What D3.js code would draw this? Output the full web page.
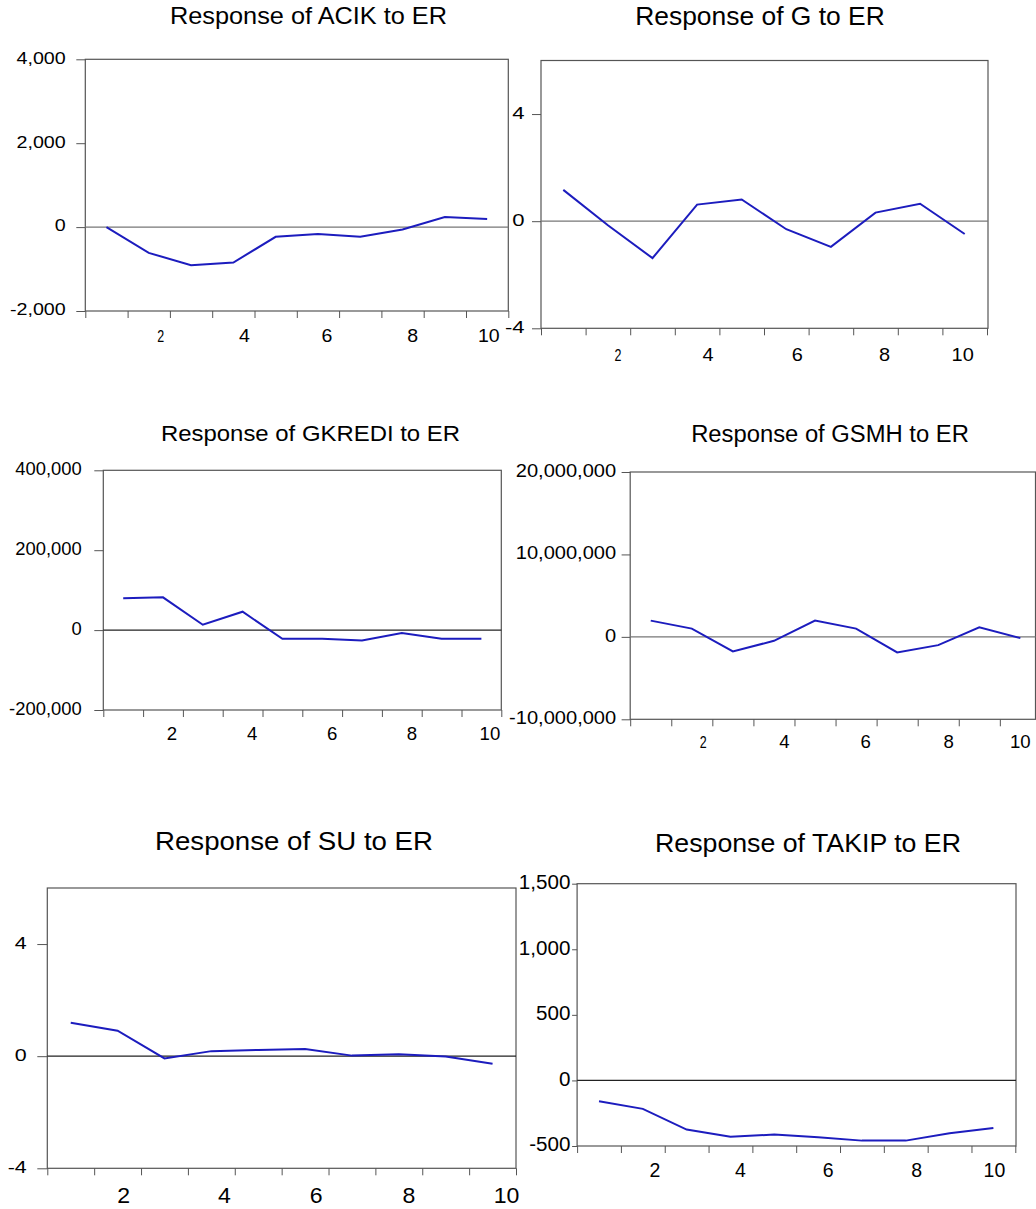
<!DOCTYPE html>
<html>
<head>
<meta charset="utf-8">
<script src="https://cdn.jsdelivr.net/npm/d3@7"></script>
<style>
  body { margin: 0; background: #fff; }
  svg { display: block; font-family: Arial, "Liberation Sans", sans-serif; }
</style>
</head>
<body>
<div id="chart"></div>
<script>
// impulse responses, periods 1..10
var periods = [1, 2, 3, 4, 5, 6, 7, 8, 9, 10];
var xTickLabels = [2, 4, 6, 8, 10];

var acikResp   = [0, -614, -908, -845, -231, -167, -231, -56, 239, 191];
var gResp      = [1.17, -0.15, -1.38, 0.62, 0.81, -0.30, -0.96, 0.32, 0.65, -0.48];
var gkrediResp = [79500, 82000, 13400, 46000, -21800, -21800, -26000, -7500, -21800, -21800];
var gsmhResp   = [1970000, 1000000, -1770000, -480000, 1970000, 1000000, -1890000, -1000000, 1150000, -150000];
var suResp     = [1.19, 0.91, -0.08, 0.18, 0.22, 0.26, 0.02, 0.07, -0.01, -0.27];
var takipResp  = [-158, -217, -375, -429, -413, -434, -459, -459, -403, -362];

var acikTicks   = [-2000, 0, 2000, 4000];
var gTicks      = [-4, 0, 4];
var gkrediTicks = [-200000, 0, 200000, 400000];
var gsmhTicks   = [-10000000, 0, 10000000, 20000000];
var suTicks     = [-4, 0, 4];
var takipTicks  = [-500, 0, 500, 1000, 1500];

var width = 1036, height = 1209;
var lineColor = "#1c1cbe";

var fmt = d3.formatLocale({decimal: ".", thousands: ",", grouping: [3], currency: ["", ""], minus: "-"}).format(",");

// each panel is a separate EViews graph pasted in, so they all have their own geometry
var panels = [
  {title: "Response of ACIK to ER", values: acikResp, domain: [-2000, 4000], ticks: acikTicks,
   box: {l: 85.3, r: 508.3, t: 59.3, b: 311}, xr: [85.3, 508.3],
   tt: {x: 308.5, y: 24, size: 24, len: 277},
   yl: {size: 16, sx: 1.23, tick: 9, pad: 10.6},
   xl: {size: 18.6, sx: 1.05, y: 342, dx: [12, 11, 9, 10, 1.6]}, small2: true, zero: "#777"},
  {title: "Response of G to ER", values: gResp, domain: [-4, 6], ticks: gTicks,
   box: {l: 541, r: 988, t: 60.5, b: 328.3}, xr: [541, 987],
   tt: {x: 760, y: 25, size: 25.6, len: 249.6},
   yl: {size: 17, sx: 1.3, tick: 9, pad: 7.4},
   xl: {size: 19, sx: 1.05, y: 361, dx: [10, 11, 11, 9, -2]}, small2: true, zero: "#777"},
  {title: "Response of GKREDI to ER", values: gkrediResp, domain: [-200000, 400000], ticks: gkrediTicks,
   box: {l: 103.3, r: 501.3, t: 470.3, b: 710}, xr: [103.3, 501.3],
   tt: {x: 310.5, y: 440.7, size: 22, len: 299},
   yl: {size: 17.7, sx: 1.04, tick: 9, pad: 12.6},
   xl: {size: 18.6, sx: 1.0, y: 740, dx: [9, 9.5, 10, 10, 8.5]}, small2: false, zero: "#222"},
  {title: "Response of GSMH to ER", values: gsmhResp, domain: [-10000000, 20000000], ticks: gsmhTicks,
   box: {l: 630.2, r: 1035.5, t: 472, b: 719.3}, xr: [630.2, 1040.9],
   tt: {x: 830, y: 441.7, size: 23, len: 277.7},
   yl: {size: 18.6, sx: 1.08, tick: 8.6, pad: 5.4},
   xl: {size: 18.6, sx: 1.0, y: 748.3, dx: [11.5, 10.5, 9.5, 10.5, 0]}, small2: true, zero: "#777"},
  {title: "Response of SU to ER", values: suResp, domain: [-4, 6], ticks: suTicks,
   box: {l: 47.3, r: 516, t: 888, b: 1168.3}, xr: [47.3, 516],
   tt: {x: 294, y: 850, size: 25.6, len: 278},
   yl: {size: 16.5, sx: 1.3, tick: 10, pad: 10.6},
   xl: {size: 22, sx: 1.05, y: 1203.3, dx: [6, 13, 11, 10, 14]}, small2: false, zero: "#222"},
  {title: "Response of TAKIP to ER", values: takipResp, domain: [-500, 1500], ticks: takipTicks,
   box: {l: 577.1, r: 1016, t: 883.7, b: 1146}, xr: [577.1, 1015.3],
   tt: {x: 808, y: 851.7, size: 25.6, len: 306},
   yl: {size: 20, sx: 1.03, tick: 5, pad: 1.7},
   xl: {size: 19.5, sx: 1.0, y: 1177, dx: [12, 10, 10, 11, 1]}, small2: false, zero: "#222"}
];

var svg = d3.select("#chart").append("svg")
    .attr("width", width)
    .attr("height", height);

svg.append("rect").attr("width", width).attr("height", height).attr("fill", "#fff");

panels.forEach(function(p) {
    var g = svg.append("g");

    var x = d3.scaleLinear().domain([0.5, 10.5]).range(p.xr);
    var y = d3.scaleLinear().domain(p.domain).range([p.box.b, p.box.t]);

    // title
    g.append("text")
        .attr("x", p.tt.x - p.tt.len / 2)
        .attr("y", p.tt.y)
        .attr("textLength", p.tt.len)
        .attr("lengthAdjust", "spacingAndGlyphs")
        .style("font-size", p.tt.size + "px")
        .attr("fill", "#000")
        .text(p.title);

    // frame
    g.append("rect")
        .attr("x", p.box.l).attr("y", p.box.t)
        .attr("width", p.box.r - p.box.l).attr("height", p.box.b - p.box.t)
        .attr("fill", "none").attr("stroke", "#555").attr("stroke-width", 1.2);

    // zero line
    g.append("line")
        .attr("x1", p.box.l).attr("x2", p.box.r)
        .attr("y1", y(0)).attr("y2", y(0))
        .attr("stroke", p.zero).attr("stroke-width", 1.2);

    // y axis
    var ya = g.append("g")
        .attr("transform", "translate(" + p.box.l + ",0)")
        .call(d3.axisLeft(y).tickValues(p.ticks).tickSize(p.yl.tick).tickSizeOuter(0)
            .tickPadding(p.yl.pad).tickFormat(fmt));
    ya.select(".domain").remove();
    ya.selectAll("line").attr("stroke", "#555");
    ya.selectAll("text")
        .style("font-size", p.yl.size + "px")
        .attr("fill", "#000")
        .attr("dy", "0.24em")
        .attr("x", -(p.yl.tick + p.yl.pad) / p.yl.sx)
        .attr("transform", "scale(" + p.yl.sx + ",1)");

    // x axis: ticks between periods
    var xa = g.append("g")
        .attr("transform", "translate(0," + p.box.b + ")")
        .call(d3.axisBottom(x).tickValues(d3.range(0.5, 11, 1)).tickSize(7).tickSizeOuter(0).tickFormat(""));
    xa.select(".domain").remove();
    xa.selectAll("line").attr("stroke", "#555");

    g.selectAll(".xlab")
        .data(xTickLabels)
        .enter().append("text")
        .attr("class", "xlab")
        .attr("text-anchor", "middle")
        .attr("fill", "#000")
        .style("font-size", function(d) { return (p.small2 && d === 2 ? 16 : p.xl.size) + "px"; })
        .attr("transform", function(d, i) {
            var sx = (p.small2 && d === 2) ? 0.78 : p.xl.sx;
            return "translate(" + (x(d) + p.xl.dx[i]) + "," + p.xl.y + ") scale(" + sx + ",1)";
        })
        .text(function(d) { return d; });

    // response line
    var line = d3.line()
        .x(function(d, i) { return x(periods[i]); })
        .y(function(d) { return y(d); });

    g.append("path")
        .datum(p.values)
        .attr("d", line)
        .attr("fill", "none")
        .attr("stroke", lineColor)
        .attr("stroke-width", 2);
});
</script>
</body>
</html>
